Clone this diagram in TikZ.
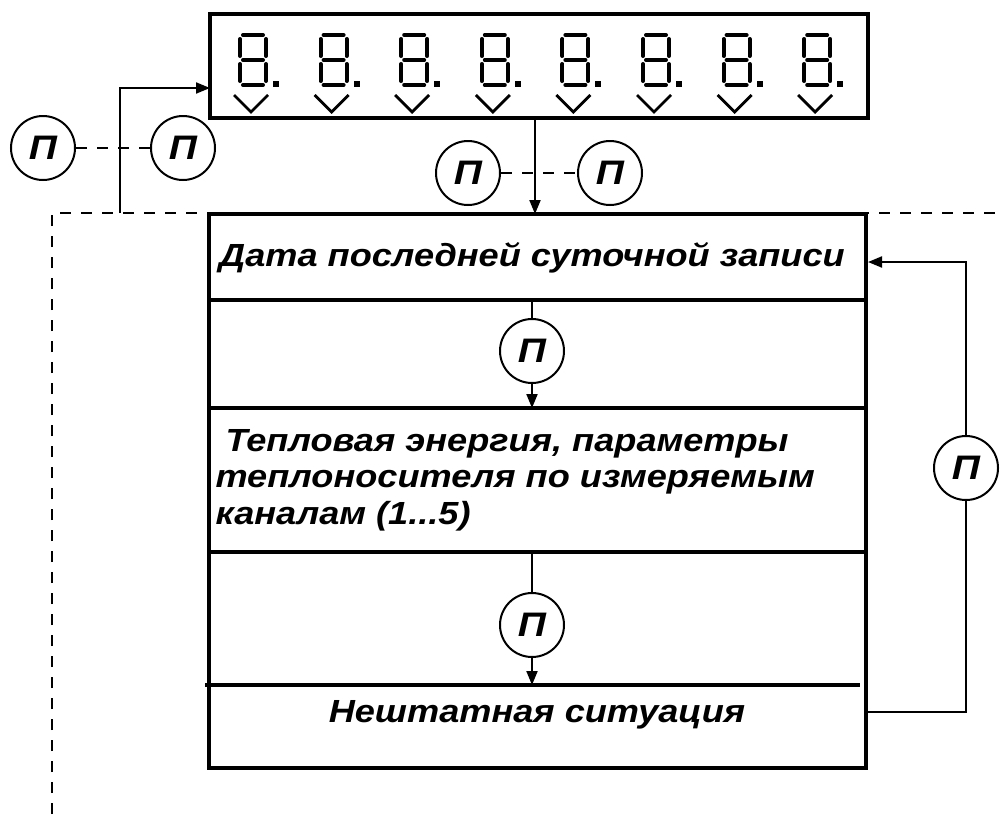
\documentclass[tikz,border=0pt]{standalone}
\usepackage{fontspec}
\setmainfont{Liberation Sans}
\usepackage{graphicx}
\usepackage{tikz}
\usetikzlibrary{arrows.meta}
\tikzstyle{every node}=[font=\fontsize{32}{36.5}\selectfont\bfseries\itshape]
\tikzstyle{pcirc}=[circle, draw, line width=2, minimum size=64, inner sep=0, fill=white, font=\fontsize{34}{36}\selectfont\bfseries\itshape]
\tikzstyle{arr}=[line width=2, -{Triangle[length=14,width=11]}]
\tikzstyle{wire}=[line width=2]
\tikzstyle{dashwire}=[line width=2, dash pattern=on 11 off 10]
\tikzstyle{seg}=[line width=4, line cap=round]

\newcommand{\wide}[1]{\scalebox{1.13}[1]{#1}}
\newcommand{\lcddigit}[1]{%
    \draw[seg] (#1+5,35) -- (#1+25,35);
    \draw[seg] (#1+5,60) -- (#1+25,60);
    \draw[seg] (#1+5,85) -- (#1+25,85);
    \draw[seg] (#1+2,39) -- (#1+2,56);
    \draw[seg] (#1+28,39) -- (#1+28,56);
    \draw[seg] (#1+2,64) -- (#1+2,81);
    \draw[seg] (#1+28,64) -- (#1+28,81);
    \fill (#1+35,81) rectangle (#1+41,87);
    \draw[line width=2.8] (#1-4,95) -- (#1+13,112) -- (#1+30,95);
}

\begin{document}
\begin{tikzpicture}[x=1pt, y=-1pt]
\useasboundingbox (0,0) rectangle (1003,814);
% Display
    \node[draw, line width=4, minimum width=658, minimum height=104, inner sep=0] (disp) at (539,66) {};
    \foreach \i in {0,...,7} {
        \pgfmathsetmacro{\xo}{238+80.6*\i}
        \lcddigit{\xo}
    }
% Dashed border
    \draw[dashwire] (52,814) -- (52,213) -- (1003,213);
% Main box
    \draw[line width=4.5] (209,214) rectangle (866,768);
    \draw[line width=4] (209,300) -- (866,300);
    \draw[line width=4] (209,408) -- (866,408);
    \draw[line width=4] (209,552) -- (866,552);
    \draw[line width=4] (205,685) -- (860,685);
    \node (dat) at (532,258) {\wide{Дата последней суточной записи}};
    \node[align=left, anchor=west] (energy) at (212,480) {\wide{\ Тепловая энергия, параметры}\\\wide{теплоносителя по измеряемым}\\\wide{каналам (1...5)}};
    \node (nesht) at (537,715) {\wide{Нештатная ситуация}};
% Named points
    \coordinate (dispin) at (210,88);
    \coordinate (lcorner) at (120,213);
    \coordinate (dispout) at (535,118);
    \coordinate (maintop) at (535,214);
    \coordinate (row1) at (532,300);
    \coordinate (row2) at (532,408);
    \coordinate (row3) at (532,552);
    \coordinate (row4) at (532,685);
    \coordinate (nout) at (866,712);
    \coordinate (datin) at (868,262);
% Left loop
    \draw[arr] (lcorner) -- (120,88) -- (dispin);
    \node[pcirc] (pl1) at (43,148) {\scalebox{1.15}[1]{П}};
    \node[pcirc] (pl2) at (183,148) {\scalebox{1.15}[1]{П}};
    \draw[dashwire] (pl1) -- (pl2);
% Display to main box
    \draw[arr] (dispout) -- (maintop);
    \node[pcirc] (pm1) at (468,173) {\scalebox{1.15}[1]{П}};
    \node[pcirc] (pm2) at (610,173) {\scalebox{1.15}[1]{П}};
    \draw[dashwire] (pm1) -- (pm2);
% Rows
    \node[pcirc] (pr1) at (532,351) {\scalebox{1.15}[1]{П}};
    \draw[wire] (row1) -- (pr1);
    \draw[arr] (pr1) -- (row2);
    \node[pcirc] (pr2) at (532,625) {\scalebox{1.15}[1]{П}};
    \draw[wire] (row3) -- (pr2);
    \draw[arr] (pr2) -- (row4);
% Right loop
    \node[pcirc] (pback) at (966,468) {\scalebox{1.15}[1]{П}};
    \draw[wire] (nout) -- (966,712) -- (pback);
    \draw[arr] (pback) -- (966,262) -- (datin);
\end{tikzpicture}
\end{document}
